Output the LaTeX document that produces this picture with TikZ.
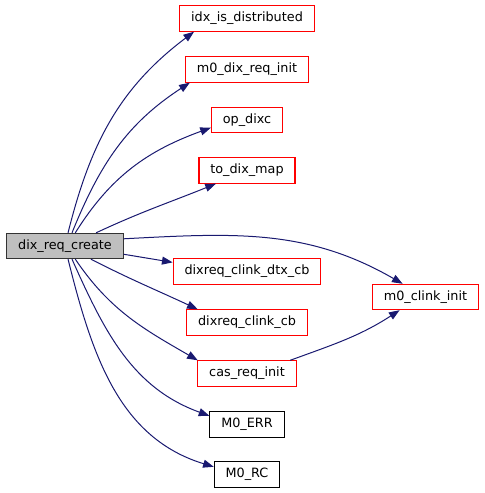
\documentclass[tikz,border=0pt]{standalone}
\usepackage{fontspec}
\setmainfont{DejaVu Sans}
\usepackage{xcolor}
\usepackage{tikz}
\usetikzlibrary{arrows.meta}
\definecolor{edgeblue}{RGB}{25, 25, 112}
\definecolor{callred}{RGB}{255, 0, 0}
\definecolor{rootgray}{RGB}{191, 191, 191}

\begin{document}
\begin{tikzpicture}[
  x=0.75pt, y=-0.75pt,
  fn/.style={draw=callred, line width=0.8pt, fill=white, inner xsep=8.5pt, inner ysep=0pt,
    minimum height=19pt, font=\fontsize{9.6}{11}\selectfont},
  plain/.style={fn, draw=black},
  root/.style={fn, draw=black!80, fill=rootgray},
  call/.style={edgeblue, line width=0.75pt, -{Triangle[length=8pt,width=6pt]}}
]
\useasboundingbox (0,0) rectangle (485,493);
\node[root] (create) at (65,246) {dix\_req\_create};
\node[fn] (idx) at (247,18.5) {idx\_is\_distributed};
\node[fn] (reqinit) at (247,69.5) {m0\_dix\_req\_init};
\node[fn] (opdixc) at (247,120) {op\_dixc};
\node[fn] (todixmap) at (247,170.5) {to\_dix\_map};
\node[fn] (dtxcb) at (247,271.5) {dixreq\_clink\_dtx\_cb};
\node[fn] (clinkcb) at (247,322.5) {dixreq\_clink\_cb};
\node[fn] (casinit) at (247,373.5) {cas\_req\_init};
\node[plain] (err) at (247,424.5) {M0\_ERR};
\node[plain] (rc) at (247,474.5) {M0\_RC};
\node[fn] (clinkinit) at (425.5,297) {m0\_clink\_init};
\draw[call] (create.77) to[out=76,in=217] (idx.194);
\draw[call] (create.62) to[out=68,in=213] (reqinit.193);
\draw[call] (create.52) to[out=58,in=200] (opdixc.192);
\draw[call] (create.23) to[out=25,in=202] (todixmap.203);
\draw[call] (create.7) to[out=3,in=150] (clinkinit.150);
\draw[call] (create.-8) -- (dtxcb.173);
\draw[call] (create.-27) to[out=-27,in=155] (clinkcb.165);
\draw[call] (create.-52) to[out=-56,in=150] (casinit.165);
\draw[call] (create.-62) to[out=-66,in=160] (err.167);
\draw[call] (create.-77) to[out=-76,in=163] (rc.167);
\draw[call] (casinit.17) to[out=20,in=213] (clinkinit.207);
\end{tikzpicture}
\end{document}
